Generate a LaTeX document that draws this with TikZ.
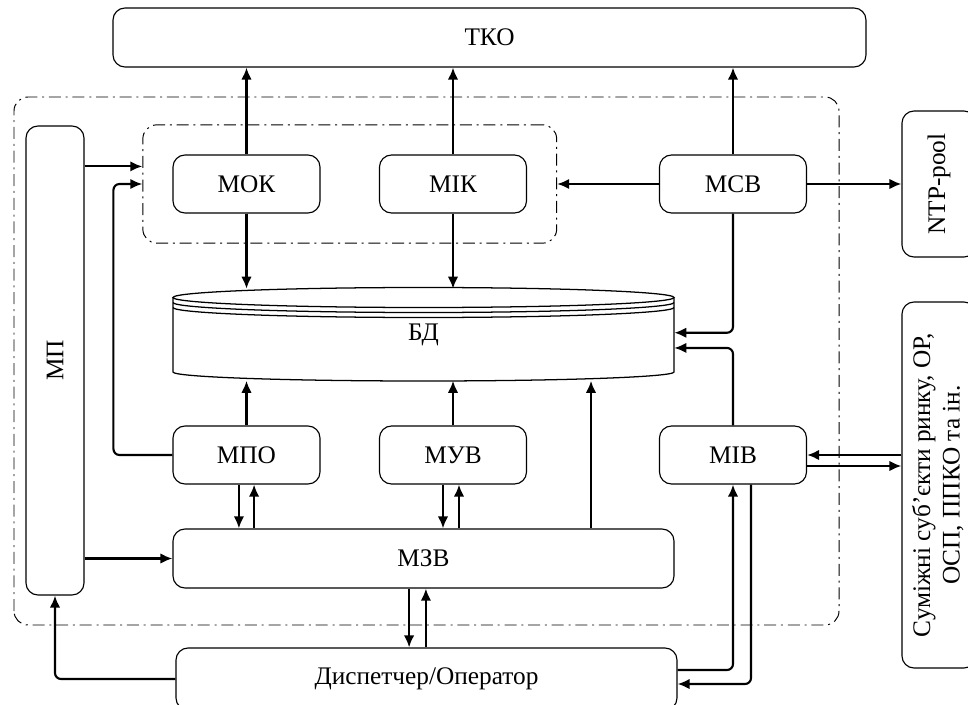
\documentclass[tikz,border=0pt]{standalone}
\usepackage{fontspec}
\setmainfont{Liberation Serif}
\usepackage{graphicx}
\usetikzlibrary{arrows.meta,fit}
\tikzset{
  modbox/.style = 	{shape=rectangle, rounded corners=3mm,
				draw, line width=0.8pt, align=center, inner sep=0pt,
				minimum width=3.675cm, minimum height=1.45cm},
  widebox/.style = 	{modbox, minimum width=12.525cm},
  sidebox/.style = 	{modbox, minimum width=1.85cm},
  group/.style = 	{draw, rounded corners=3.5mm, line width=0.7pt,
				dash pattern=on 3mm off 1.2mm on 0.5mm off 1.2mm},
  link/.style = 	{->, draw, line width=1.5pt, rounded corners=1.5mm},
  db/.style = 	{draw, line width=0.9pt},
}

\begin{document}
\begin{tikzpicture}
	[
		>                       = {Latex[length=3mm, width=2.6mm]},
		every node/.style       = {font=\fontsize{18}{21}\selectfont}
	]
	\useasboundingbox (0,0) rectangle (24.2,17.6);
	\node [modbox, minimum width=18.825cm, minimum height=1.475cm] (tko) at (12.2375,16.6625) {ТКО};
	\node [modbox] (mok) at (6.1625,13) {МОК};
	\node [modbox] (mik) at (11.325,13) {МІК};
	\node [modbox] (msv) at (18.325,13) {МСВ};
	\node [modbox] (mpo) at (6.1625,6.225) {МПО};
	\node [modbox] (muv) at (11.325,6.225) {МУВ};
	\node [modbox] (miv) at (18.325,6.225) {МІВ};
	\node [widebox, minimum height=1.475cm] (mzv) at (10.5875,3.6375) {МЗВ};
	\node [widebox, minimum height=1.55cm] (disp) at (10.6625,0.625) {Диспетчер/Оператор};
	\node [modbox, minimum width=1.45cm, minimum height=11.725cm] (mp) at (1.375,8.5875) {\rotatebox{90}{МП}};
	\node [sidebox, minimum height=3.65cm] (ntp) at (23.475,13) {\rotatebox{90}{NTP-pool}};
	\node [sidebox, minimum height=9.15cm] (sum) at (23.475,5.475)
		{\rotatebox{90}{\begin{tabular}{@{}c@{}}Суміжні суб’єкти ринку, ОР,\\ОСП, ППКО та ін.\end{tabular}}};
	\node [inner sep=0pt, minimum width=12.525cm, minimum height=2.2875cm] (bd) at (10.5875,9.23125) {БД};
	% database drum
	\draw [db] (10.5875,10.1625) ellipse [x radius=6.2625cm, y radius=2.5mm];
	\foreach \y in {10.0375,9.9125}
		\draw [db] (4.325,\y) arc [start angle=180, end angle=360, x radius=6.2625cm, y radius=2.5mm];
	\draw [db] (4.325,10.1625) -- (4.325,8.3)
		arc [start angle=180, end angle=360, x radius=6.2625cm, y radius=2.25mm] -- (16.85,10.1625);
	% groups
	\draw [group] (0.35,1.975) rectangle (20.975,15.175);
	\node [group, fit=(mok)(mik), inner sep=7.4mm] (grpin) {};
	% links
	\draw [link] (mok) -- (mok |- tko.south);
	\draw [link] (mik) -- (mik |- tko.south);
	\draw [link] (msv) -- (msv |- tko.south);
	\draw [link] (mok) -- (mok |- bd.north);
	\draw [link] (mik) -- (mik |- bd.north);
	\draw [link] (mpo) -- (mpo |- bd.south);
	\draw [link] (muv) -- (muv |- bd.south);
	\coordinate (zb) at ([xshift=4.1875cm]mzv.north);
	\draw [link] (zb) -- (zb |- bd.south);
	\draw [link] (msv) -- (msv -| grpin.east);
	\draw [link] (msv) -- (ntp);
	\draw [link] (msv) |- ([yshift=0.5mm]bd.east);
	\draw [link] (miv) |- ([yshift=-3.3mm]bd.east);
	\draw [link] ([yshift=4.4mm]grpin.west -| mp.east) -- ([yshift=4.4mm]grpin.west);
	\draw [link] (mpo.west) -- ++(-1.475,0) |- (grpin.west);
	\draw [link] ([xshift=-1.9mm]mpo.south) -- ([xshift=-1.9mm]mpo.south |- mzv.north);
	\draw [link] ([xshift=1.9mm]mpo.south |- mzv.north) -- ([xshift=1.9mm]mpo.south);
	\draw [link] ([xshift=-2.5mm]muv.south) -- ([xshift=-2.5mm]muv.south |- mzv.north);
	\draw [link] ([xshift=1.5mm]muv.south |- mzv.north) -- ([xshift=1.5mm]muv.south);
	\draw [link] (mp.east |- mzv) -- (mzv);
	\draw [link] ([xshift=-3.6mm]mzv.south) -- ([xshift=-3.6mm]mzv.south |- disp.north);
	\draw [link] ([xshift=0.6mm]mzv.south |- disp.north) -- ([xshift=0.6mm]mzv.south);
	\draw [link] (disp.west) -| (mp.south);
	\draw [link] ([yshift=2.25mm]disp.east) -| (miv.south);
	\draw [link] ([xshift=4.5mm]miv.south) |- ([yshift=-1.25mm]disp.east);
	\draw [link] (miv -| sum.west) -- (miv);
	\draw [link] ([yshift=-2.75mm]miv.east) -- ([yshift=-2.75mm]miv.east -| sum.west);
\end{tikzpicture}
\end{document}
